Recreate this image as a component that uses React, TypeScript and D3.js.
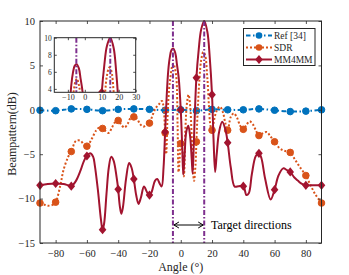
import React, { useEffect, useRef } from 'react';
import * as d3 from 'd3';

// angles with a marker (every 10 deg)
const markerAngles = [-90, -80, -70, -60, -50, -40, -30, -20, -10, 0, 10, 20, 30, 40, 50, 60, 70, 80, 90];

// Ref [34]
const refAngles = markerAngles;
const refValues = [-0.05, -0.1, 0.1, 0.05, -0.1, 0.05, 0.1, 0.05, -0.05, 0, -0.1, 0.05, 0, 0, 0.1, -0.05, -0.2, -0.15, 0];

// SDR
const sdrAngles = [-90, -87, -85, -82, -80, -77, -75, -72, -70, -67, -64, -62, -60, -57, -54, -52, -50, -48, -46, -44, -42, -40,
  -38, -36, -34, -32, -30, -28, -26, -24, -22, -20, -18, -16, -14, -12, -11, -10, -9.3, -8.5, -7.5, -6.5, -5.5, -4.6, -3.8,
  -2.8, -2, -1.4, -0.7, 0, 1, 2, 3, 4, 5, 6, 7, 8.5, 9.5, 10, 11, 12, 13, 14.4, 15.5, 17, 18, 19, 20, 21.5, 23, 25, 27, 28.5,
  30, 32, 34, 36, 38, 40, 42, 44, 46, 48, 50, 52, 55, 57, 60, 63, 66, 70, 73, 76, 80, 83, 86, 90];
const sdrValues = [-10.5, -10.7, -10.8, -10.7, -10.4, -8.5, -6.8, -5.3, -4.7, -3.5, -3.5, -3.9, -4.1, -3.3, -2.3, -2.0, -2.1, -2.4, -2.6, -2.0, -1.4, -1.2,
  -1.7, -2.0, -1.6, -0.9, -0.8, -1.0, -1.6, -1.9, -1.7, -1.5, -0.6, 0.2, 0.6, 1.0, 0.3, -2.6, -5.0, -1.0, 2.2, 3.8, 4.9, 5.2, 4.7,
  3.6, -2, -7, -5.5, -3.8, -4.5, -7.5, -2, 0.8, 1.7, 0.5, -3, -8, -6, -3.6, 0.5, 3.6, 5.5, 6.5, 6.2, 3.6, 0.5, -1.8, -2.3, -1.0, -0.1, 0.35, -0.3, -1.5,
  -2.3, -0.8, -0.4, -0.9, -1.8, -2.2, -1.7, -1.3, -1.6, -2.3, -2.9, -2.7, -2.5, -2.9, -3.6, -4.3, -4.6, -4.8, -5.6, -6.4, -7.4, -8.5, -9.5, -10.5];

// MM4MM
const mmAngles = [-90, -85, -80, -75, -72, -70, -67, -64, -62, -60, -58, -56, -55, -53, -51, -50, -49, -47.5, -46, -44.5, -43, -41,
  -40, -39, -38, -37, -35, -33, -31.5, -30, -28.5, -27, -25.5, -23.5, -21.5, -20, -18.5, -16.5, -15, -13.5, -12.2, -11, -10, -9,
  -8, -7, -6, -4.8, -3.5, -2.5, -1.3, 0, 1, 1.6, 2.5, 3.5, 4.8, 6, 7, 7.6, 8.5, 10, 11.5, 13, 15, 17, 18.5, 20, 21, 22, 23, 24.5,
  26.5, 28.5, 30, 32, 34.5, 37, 40, 42, 43.5, 45.5, 48, 50, 51.5, 54, 57.5, 60, 62.5, 65.5, 68, 70, 72.5, 75, 77.5, 80, 85, 90];
const mmValues = [-8.5, -8.35, -8.3, -8.35, -8.5, -8.6, -8.0, -6.8, -5.8, -5.2, -4.9, -5.3, -6.2, -9.0, -12.4, -13.5, -12.8, -9.5, -6.5, -5.3, -5.7, -7.6,
  -8.95, -10.8, -11.7, -11.0, -7.8, -6.0, -6.5, -7.8, -9.6, -10.6, -9.9, -8.65, -9.3, -9.6, -9.2, -8.0, -7.8, -8.3, -8.65, -6.5, -2.5, 1.5,
  4.4, 5.9, 6.7, 6.9, 6.4, 5.2, 3.6, 0, -4.5, -7.3, -5, -2.5, -1.8, -3, -5.5, -7.2, -3, 3.6, 6.8, 9, 10, 8.8, 6, 1.7, -3.5, -7, -5, -2.5,
  -1.35, -2.2, -3.7, -6.5, -8.65, -8.6, -8.6, -9.6, -9.4, -7.2, -5.2, -4.9, -5.4, -7.8, -10.1, -9.0, -7.4, -6.6, -6.8, -7.0, -7.6, -8.0, -8.35, -8.5, -8.5, -8.5];

const xTicks = [-80, -60, -40, -20, 0, 20, 40, 60, 80];
const yTicks = [-15, -10, -5, 0, 5, 10];
const targetAngles = [-5, 15];
const insetXTicks = [-10, 0, 10, 20, 30];
const insetYTicks = [4, 6, 8, 10];
const legendLabels = ['Ref [34]', 'SDR', 'MM4MM'];

const BLUE = '#0072BD';
const ORANGE = '#D95319';
const RED = '#A2142F';
const PURPLE = '#7E2F8E';
const AX = '#262626';
const FONT = '"Liberation Serif", "Times New Roman", serif';

const diamond = 'M0,-4.6L3.8,0L0,4.6L-3.8,0Z';

const App = () => {
  const svgRef = useRef(null);

  useEffect(() => {
    const svg = d3.select(svgRef.current);
    svg.selectAll('*').remove();

    const x = d3.scaleLinear().domain([-90, 90]).range([40, 321.5]);
    const y = d3.scaleLinear().domain([-15, 10]).range([243, 21]);

    const series = [
      { name: legendLabels[0], a: refAngles, v: refValues, color: BLUE, dash: '4.5 2.5 1.5 2.5', marker: 'circle' },
      { name: legendLabels[1], a: sdrAngles, v: sdrValues, color: ORANGE, dash: '2 2', marker: 'circle' },
      { name: legendLabels[2], a: mmAngles, v: mmValues, color: RED, dash: null, marker: 'diamond' },
    ];

    const drawSeries = (g, sx, sy, withMarkers) => {
      series.forEach(s => {
        const pts = s.a.map((a, i) => [a, s.v[i]]);
        const line = d3.line()
          .x(d => sx(d[0]))
          .y(d => sy(d[1]))
          .curve(d3.curveCatmullRom.alpha(0.5));
        g.append('path')
          .datum(pts)
          .attr('d', line)
          .attr('fill', 'none')
          .attr('stroke', s.color)
          .attr('stroke-width', 2)
          .attr('stroke-dasharray', s.dash);
        if (!withMarkers) return;
        const mpts = pts.filter(p => markerAngles.includes(p[0]));
        if (s.marker === 'circle') {
          g.selectAll(null).data(mpts).enter().append('circle')
            .attr('cx', d => sx(d[0]))
            .attr('cy', d => sy(d[1]))
            .attr('r', 3.3)
            .attr('fill', s.color)
            .attr('stroke', s.color);
        } else {
          g.selectAll(null).data(mpts).enter().append('path')
            .attr('d', diamond)
            .attr('transform', d => `translate(${sx(d[0])},${sy(d[1])})`)
            .attr('fill', s.color);
        }
      });
    };

    const drawTargets = (g, sx, y0, y1) => {
      targetAngles.forEach(t => {
        g.append('line')
          .attr('x1', sx(t)).attr('x2', sx(t))
          .attr('y1', y0).attr('y2', y1)
          .attr('stroke', PURPLE)
          .attr('stroke-width', 2)
          .attr('stroke-dasharray', '5 2 1.5 2');
      });
    };

    const styleAxis = (g, size) => {
      g.attr('font-family', FONT);
      g.select('.domain').remove();
      g.selectAll('line').attr('stroke', AX).attr('stroke-width', 0.8);
      g.selectAll('text').attr('fill', AX).attr('font-family', FONT).attr('font-size', size);
    };

    // main plot
    const plot = svg.append('g');
    drawSeries(plot, x, y, true);
    drawTargets(plot, x, y(10), y(-15));

    const w = 321.5 - 40;
    const h = 243 - 21;
    const gx = svg.append('g').attr('transform', 'translate(0,243)')
      .call(d3.axisBottom(x).tickValues(xTicks).tickSizeInner(-3).tickSizeOuter(0).tickPadding(6.5));
    styleAxis(gx, 10.5);
    const gxt = svg.append('g').attr('transform', 'translate(0,21)')
      .call(d3.axisTop(x).tickValues(xTicks).tickSizeInner(-3).tickSizeOuter(0).tickFormat(() => ''));
    styleAxis(gxt, 10.5);
    const gy = svg.append('g').attr('transform', 'translate(40,0)')
      .call(d3.axisLeft(y).tickValues(yTicks).tickSizeInner(-3).tickSizeOuter(0).tickPadding(5));
    styleAxis(gy, 10.5);
    const gyr = svg.append('g').attr('transform', 'translate(321.5,0)')
      .call(d3.axisRight(y).tickValues(yTicks).tickSizeInner(-3).tickSizeOuter(0).tickFormat(() => ''));
    styleAxis(gyr, 10.5);

    svg.append('rect')
      .attr('x', 40).attr('y', 21).attr('width', w).attr('height', h)
      .attr('fill', 'none').attr('stroke', AX).attr('stroke-width', 1);

    // axis labels
    svg.append('text')
      .attr('x', 180.7).attr('y', 271)
      .attr('text-anchor', 'middle')
      .attr('font-family', FONT).attr('font-size', 12).attr('fill', AX)
      .text('Angle (°)');
    svg.append('text')
      .attr('transform', 'translate(16,134) rotate(-90)')
      .attr('text-anchor', 'middle')
      .attr('font-family', FONT).attr('font-size', 12).attr('fill', AX)
      .text('Beampattern(dB)');

    // target directions arrow
    const ay = 225;
    const ax0 = x(targetAngles[0]);
    const ax1 = x(targetAngles[1]);
    svg.append('line')
      .attr('x1', ax0 + 1).attr('x2', ax1 - 1).attr('y1', ay).attr('y2', ay)
      .attr('stroke', '#000').attr('stroke-width', 1);
    svg.append('path')
      .attr('d', `M${ax0 + 6},${ay - 3}L${ax0 + 1},${ay}L${ax0 + 6},${ay + 3}M${ax1 - 6},${ay - 3}L${ax1 - 1},${ay}L${ax1 - 6},${ay + 3}`)
      .attr('fill', 'none').attr('stroke', '#000').attr('stroke-width', 1);
    svg.append('text')
      .attr('x', 211).attr('y', 228.5)
      .attr('font-family', FONT).attr('font-size', 12).attr('fill', '#000')
      .text('Target directions');

    // legend
    const lg = svg.append('g');
    lg.append('rect')
      .attr('x', 243.5).attr('y', 28.5).attr('width', 71.5).attr('height', 37)
      .attr('fill', '#fff').attr('stroke', AX).attr('stroke-width', 1);
    series.forEach((s, i) => {
      const ly = 35.5 + i * 12;
      lg.append('line')
        .attr('x1', 246).attr('x2', 272).attr('y1', ly).attr('y2', ly)
        .attr('stroke', s.color).attr('stroke-width', 2)
        .attr('stroke-dasharray', s.dash);
      if (s.marker === 'circle') {
        lg.append('circle').attr('cx', 259).attr('cy', ly).attr('r', 3.3).attr('fill', s.color);
      } else {
        lg.append('path').attr('d', diamond).attr('transform', `translate(259,${ly})`).attr('fill', s.color);
      }
      lg.append('text')
        .attr('x', 274).attr('y', ly + 3.3)
        .attr('font-family', FONT).attr('font-size', 9.5).attr('fill', AX)
        .text(s.name);
    });

    // inset
    const il = 54.3, ir = 135.7, it = 37.7, ib = 92.3;
    const ix = d3.scaleLinear().domain([-18, 30]).range([il, ir]);
    const iy = d3.scaleLinear().domain([3.6, 10]).range([ib, it]);
    svg.append('rect')
      .attr('x', il).attr('y', it).attr('width', ir - il).attr('height', ib - it)
      .attr('fill', '#fff');
    svg.append('clipPath').attr('id', 'insetClip')
      .append('rect').attr('x', il).attr('y', it).attr('width', ir - il).attr('height', ib - it);
    const ig = svg.append('g').attr('clip-path', 'url(#insetClip)');
    drawSeries(ig, ix, iy, true);
    drawTargets(ig, ix, it, ib);

    const fmt = d3.format('d');
    const igx = svg.append('g').attr('transform', `translate(0,${ib})`)
      .call(d3.axisBottom(ix).tickValues(insetXTicks).tickFormat(fmt).tickSizeInner(-2.5).tickSizeOuter(0).tickPadding(2.5));
    styleAxis(igx, 8);
    const igxt = svg.append('g').attr('transform', `translate(0,${it})`)
      .call(d3.axisTop(ix).tickValues(insetXTicks).tickSizeInner(-2.5).tickSizeOuter(0).tickFormat(() => ''));
    styleAxis(igxt, 8);
    const igy = svg.append('g').attr('transform', `translate(${il},0)`)
      .call(d3.axisLeft(iy).tickValues(insetYTicks).tickFormat(fmt).tickSizeInner(-2.5).tickSizeOuter(0).tickPadding(2.5));
    styleAxis(igy, 7.5);
    const igyr = svg.append('g').attr('transform', `translate(${ir},0)`)
      .call(d3.axisRight(iy).tickValues(insetYTicks).tickSizeInner(-2.5).tickSizeOuter(0).tickFormat(() => ''));
    styleAxis(igyr, 7.5);
    svg.append('rect')
      .attr('x', il).attr('y', it).attr('width', ir - il).attr('height', ib - it)
      .attr('fill', 'none').attr('stroke', AX).attr('stroke-width', 1);
  }, []);

  return (
    <svg
      ref={svgRef}
      width={349}
      height={275}
      style={{ position: 'absolute', left: 0, top: 0, background: '#fff' }}
    />
  );
};

export default App;
